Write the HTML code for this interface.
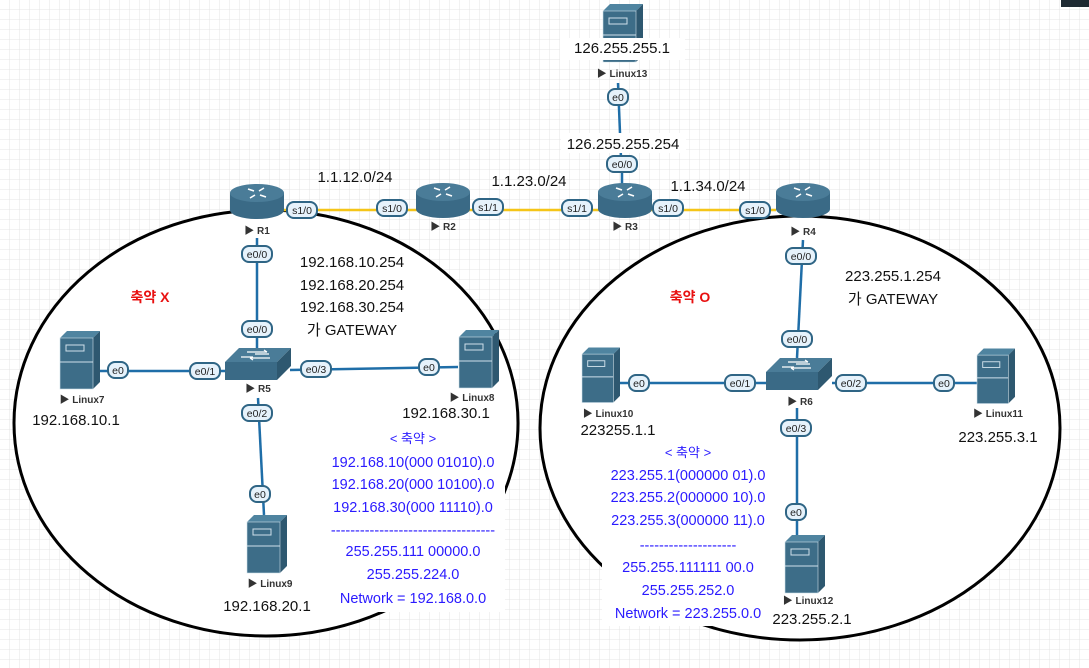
<!DOCTYPE html>
<html><head><meta charset="utf-8"><style>
html,body{margin:0;padding:0;background:#fff;}
svg{display:block;font-family:"Liberation Sans","Noto Sans CJK KR",sans-serif;}
.lbl{font-size:10px;font-weight:bold;fill:#333;}
.ip{font-size:15px;fill:#111;}
.bl{font-size:14.5px;fill:#2a1aff;}
.pt{font-size:10.5px;fill:#222;}
</style></head><body>
<svg width="1089" height="668" viewBox="0 0 1089 668" xmlns="http://www.w3.org/2000/svg">
<defs>
<pattern id="g" width="10" height="10" patternUnits="userSpaceOnUse"><path d="M10 0V10M0 10H10" stroke="#e4e4e4" stroke-width="1" fill="none"/></pattern>
<symbol id="rt" viewBox="0 0 54 38" overflow="visible">
<path d="M0 10V27A27 9 0 0 0 54 27V10Z" fill="#3a6a86"/>
<ellipse cx="27" cy="10" rx="27" ry="9" fill="#4a7c98"/>
<path d="M18 6l6 2M36 14l-6-2M34 5l-5 3M20 15l5-3" stroke="#fff" stroke-width="1.6"/>
</symbol>
<symbol id="sv" viewBox="0 0 40 58" overflow="visible">
<polygon points="0,7 7,0 40,0 33,7" fill="#4f84a0"/>
<polygon points="33,7 40,0 40,51 33,58" fill="#2e5870"/>
<rect x="0" y="7" width="33" height="51" fill="#3d6d88"/>
<rect x="6" y="14" width="18" height="6" fill="none" stroke="#cfe0ea" stroke-width="1"/>
<line x1="0" y1="31" x2="33" y2="31" stroke="#cfe0ea" stroke-width="1"/>
<rect x="0" y="7" width="33" height="51" fill="none" stroke="#cfe0ea" stroke-width=".6"/>
</symbol>
<symbol id="sw" viewBox="0 0 66 32" overflow="visible">
<polygon points="0,14 14,0 66,0 52,14" fill="#4a7c98"/>
<polygon points="52,14 66,0 66,18 52,32" fill="#2e5870"/>
<rect x="0" y="14" width="52" height="18" fill="#3a6a86"/>
<path d="M22 4h20M42 4l-3-2M25 10h20M25 10l3 2M16 9h12M30 6h14" stroke="#fff" stroke-width="1.2"/>
</symbol>
</defs>
<rect width="1089" height="668" fill="url(#g)"/>
<rect x="1061" y="0" width="28" height="7" fill="#1e2a32"/>

<ellipse cx="266" cy="423" rx="252" ry="213" fill="#fff" stroke="#000" stroke-width="3"/>
<ellipse cx="800" cy="428" rx="260" ry="212" fill="#fff" stroke="#000" stroke-width="3"/>

<line x1="283" y1="210" x2="776" y2="210" stroke="#f5c518" stroke-width="2.5"/>
<g stroke="#1f6ea8" stroke-width="2.5" fill="none">
<line x1="618" y1="83" x2="621" y2="158"/>
<line x1="622" y1="170" x2="622" y2="185"/>
<line x1="257" y1="238" x2="257" y2="350"/>
<line x1="100" y1="371" x2="225" y2="371"/>
<line x1="290" y1="370" x2="458" y2="367"/>
<line x1="258" y1="398" x2="264" y2="515"/>
<line x1="803" y1="240" x2="797" y2="358"/>
<line x1="618" y1="383" x2="766" y2="383"/>
<line x1="832" y1="383" x2="977" y2="383"/>
<line x1="797" y1="408" x2="797" y2="535"/>
</g>

<use href="#rt" x="230" y="183" width="54" height="38"/>
<use href="#rt" x="416" y="182" width="54" height="38"/>
<use href="#rt" x="598" y="182" width="54" height="38"/>
<use href="#rt" x="776" y="182" width="54" height="38"/>
<use href="#sv" x="603" y="4" width="40" height="58"/>
<rect x="560" y="38" width="125" height="22" fill="#fff"/>
<line x1="604" y1="61" x2="634" y2="61" stroke="#3d6d88" stroke-width="1.5"/>
<use href="#sw" x="225" y="348" width="66" height="32"/>
<use href="#sw" x="766" y="358" width="66" height="32"/>
<use href="#sv" x="60" y="331" width="40" height="58"/>
<use href="#sv" x="459" y="330" width="40" height="58"/>
<use href="#sv" x="247" y="515" width="40" height="58"/>
<use href="#sv" x="582" y="346" width="38" height="58"/>
<use href="#sv" x="977" y="347" width="38" height="58"/>
<use href="#sv" x="785" y="535" width="40" height="58"/>

<g class="lbl" text-anchor="middle">
<text x="257" y="234">▶ R1</text>
<text x="443" y="230">▶ R2</text>
<text x="625" y="230">▶ R3</text>
<text x="803" y="235">▶ R4</text>
<text x="258" y="392">▶ R5</text>
<text x="800" y="405">▶ R6</text>
<text x="622" y="77">▶ Linux13</text>
<text x="82" y="403">▶ Linux7</text>
<text x="472" y="401">▶ Linux8</text>
<text x="270" y="587">▶ Linux9</text>
<text x="608" y="417">▶ Linux10</text>
<text x="998" y="417">▶ Linux11</text>
<text x="808" y="604">▶ Linux12</text>
</g>

<g fill="#e6f2fb" stroke="#2f6585" stroke-width="2">
<rect x="287" y="202" width="30" height="16" rx="7"/>
<rect x="377" y="200" width="30" height="16" rx="7"/>
<rect x="473" y="199" width="30" height="16" rx="7"/>
<rect x="562" y="200" width="30" height="16" rx="7"/>
<rect x="653" y="200" width="30" height="16" rx="7"/>
<rect x="740" y="202" width="30" height="16" rx="7"/>
<rect x="608" y="89" width="20" height="16" rx="7"/>
<rect x="607" y="156" width="30" height="16" rx="7"/>
<rect x="242" y="246" width="30" height="16" rx="7"/>
<rect x="242" y="321" width="30" height="16" rx="7"/>
<rect x="108" y="362" width="20" height="16" rx="7"/>
<rect x="190" y="363" width="30" height="16" rx="7"/>
<rect x="301" y="361" width="30" height="16" rx="7"/>
<rect x="419" y="359" width="20" height="16" rx="7"/>
<rect x="242" y="405" width="30" height="16" rx="7"/>
<rect x="250" y="486" width="20" height="16" rx="7"/>
<rect x="786" y="248" width="30" height="16" rx="7"/>
<rect x="782" y="331" width="30" height="16" rx="7"/>
<rect x="629" y="375" width="20" height="16" rx="7"/>
<rect x="725" y="375" width="30" height="16" rx="7"/>
<rect x="836" y="375" width="30" height="16" rx="7"/>
<rect x="934" y="375" width="20" height="16" rx="7"/>
<rect x="781" y="420" width="30" height="16" rx="7"/>
<rect x="786" y="504" width="20" height="16" rx="7"/>
</g>
<g class="pt" text-anchor="middle">
<text x="302" y="214">s1/0</text><text x="392" y="212">s1/0</text>
<text x="488" y="211">s1/1</text><text x="577" y="212">s1/1</text>
<text x="668" y="212">s1/0</text><text x="755" y="214">s1/0</text>
<text x="618" y="101">e0</text><text x="622" y="168">e0/0</text>
<text x="257" y="258">e0/0</text><text x="257" y="333">e0/0</text>
<text x="118" y="374">e0</text><text x="205" y="375">e0/1</text>
<text x="316" y="373">e0/3</text><text x="429" y="371">e0</text>
<text x="257" y="417">e0/2</text><text x="260" y="498">e0</text>
<text x="801" y="260">e0/0</text><text x="797" y="343">e0/0</text>
<text x="639" y="387">e0</text><text x="740" y="387">e0/1</text>
<text x="851" y="387">e0/2</text><text x="944" y="387">e0</text>
<text x="796" y="432">e0/3</text><text x="796" y="516">e0</text>
</g>

<g class="ip" text-anchor="middle">
<text x="622" y="53">126.255.255.1</text>
<rect x="561" y="133" width="125" height="20" fill="#fff" stroke="none"/>
<text x="623" y="149">126.255.255.254</text>
<text x="355" y="182">1.1.12.0/24</text>
<text x="529" y="186">1.1.23.0/24</text>
<text x="708" y="191">1.1.34.0/24</text>
<text x="352" y="267">192.168.10.254</text>
<text x="352" y="290">192.168.20.254</text>
<text x="352" y="312">192.168.30.254</text>
<text x="352" y="335">가 GATEWAY</text>
<text x="76" y="425">192.168.10.1</text>
<text x="446" y="418">192.168.30.1</text>
<text x="267" y="611">192.168.20.1</text>
<text x="893" y="281">223.255.1.254</text>
<text x="893" y="304">가 GATEWAY</text>
<text x="618" y="435">223255.1.1</text>
<text x="998" y="442">223.255.3.1</text>
<text x="812" y="624">223.255.2.1</text>
</g>
<text x="150" y="302" text-anchor="middle" font-size="14" font-weight="bold" fill="#e81010">축약 X</text>
<text x="690" y="302" text-anchor="middle" font-size="14" font-weight="bold" fill="#e81010">축약 O</text>

<rect x="323" y="428" width="182" height="184" fill="#fff"/>
<g class="bl" text-anchor="middle">
<text x="413" y="443" font-size="13">&lt; 축약 &gt;</text>
<text x="413" y="467">192.168.10(000 01010).0</text>
<text x="413" y="489">192.168.20(000 10100).0</text>
<text x="413" y="512">192.168.30(000 11110).0</text>
<text x="413" y="535">----------------------------------</text>
<text x="413" y="556">255.255.111 00000.0</text>
<text x="413" y="579">255.255.224.0</text>
<text x="413" y="603">Network = 192.168.0.0</text>
</g>
<rect x="602" y="552" width="168" height="74" fill="#fff"/>
<g class="bl" text-anchor="middle">
<text x="688" y="457" font-size="13">&lt; 축약 &gt;</text>
<text x="688" y="480">223.255.1(000000 01).0</text>
<text x="688" y="502">223.255.2(000000 10).0</text>
<text x="688" y="525">223.255.3(000000 11).0</text>
<text x="688" y="550">--------------------</text>
<text x="688" y="572">255.255.111111 00.0</text>
<text x="688" y="595">255.255.252.0</text>
<text x="688" y="618">Network = 223.255.0.0</text>
</g>
</svg>
</body></html>
